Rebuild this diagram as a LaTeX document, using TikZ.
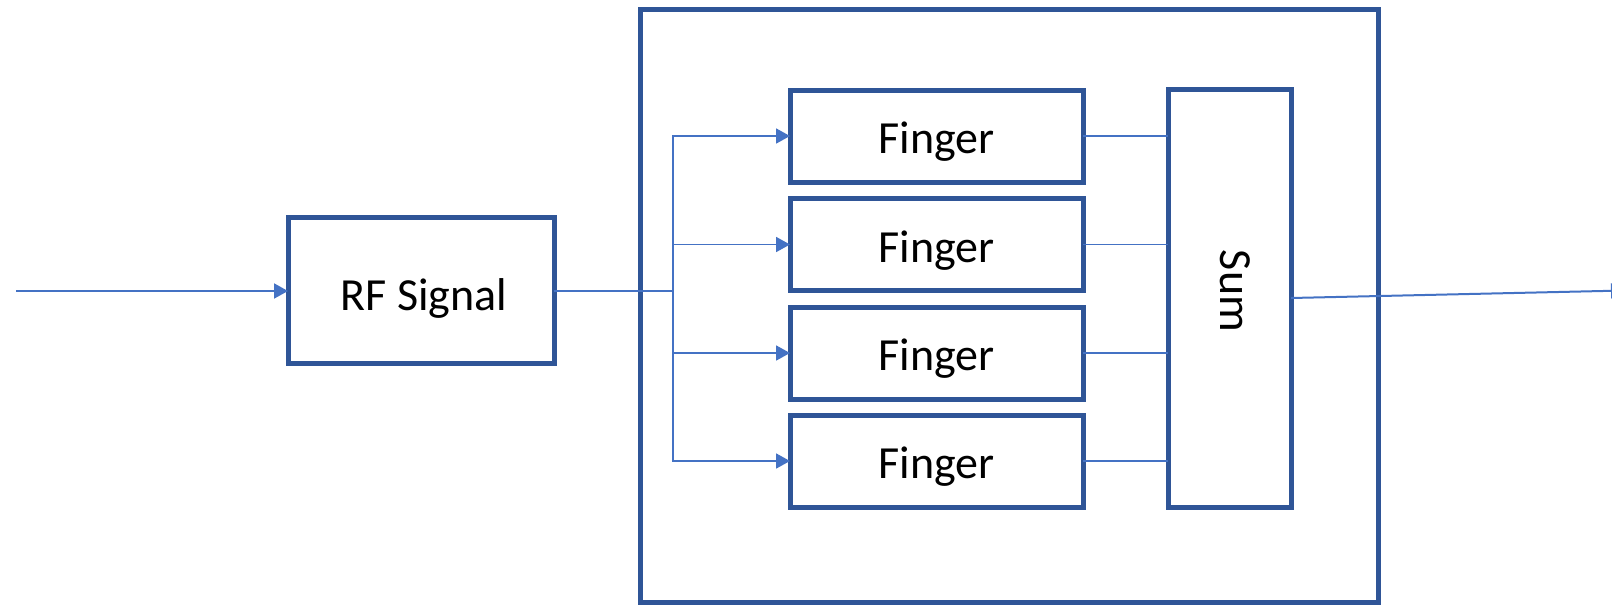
\documentclass[tikz,border=0pt]{standalone}
\usepackage{fontspec}
\setmainfont{Carlito}
\usetikzlibrary{arrows.meta}
\definecolor{boxblue}{RGB}{47,85,151}
\definecolor{linkblue}{RGB}{68,114,196}
\begin{document}
\begin{tikzpicture}[x=1pt,y=-1pt,
  blk/.style={draw=boxblue,line width=5pt,fill=white,inner sep=0pt,outer sep=0pt},
  txt/.style={font=\fontsize{46}{55}\selectfont,inner sep=0pt},
  link/.style={draw=linkblue,line width=1.8pt},
  thin/.style={draw=linkblue,line width=1.1pt},
  arr/.style={link,-{Triangle[length=14pt,width=15pt]}}]
\useasboundingbox (0,0) rectangle (1612,606);
% outer frame
\node[blk,minimum width=738pt,minimum height=593pt] (frame) at (1009,305.5) {};
% blocks
\node[blk,minimum width=266pt,minimum height=146pt] (rf) at (421,290) {};
\node[blk,minimum width=293pt,minimum height=92pt] (f1) at (936.5,136) {};
\node[blk,minimum width=293pt,minimum height=92pt] (f2) at (936.5,244.5) {};
\node[blk,minimum width=293pt,minimum height=92pt] (f3) at (936.5,353) {};
\node[blk,minimum width=293pt,minimum height=92pt] (f4) at (936.5,461) {};
\node[blk,minimum width=123pt,minimum height=418pt] (sum) at (1229.5,298) {};
% texts
\node[txt,yshift=-8pt,xshift=3pt] (rft) at (rf.center) {RF Signal};
\node[txt,yshift=-6pt] (f1t) at (f1.center) {Finger};
\node[txt,yshift=-6pt] (f2t) at (f2.center) {Finger};
\node[txt,yshift=-6pt] (f3t) at (f3.center) {Finger};
\node[txt,yshift=-6pt] (f4t) at (f4.center) {Finger};
\node[txt,xshift=6pt,yshift=7pt,rotate=-90] (sumt) at (sum.center) {Sum};
% coordinates
\coordinate (in) at (16,291);
\coordinate (j) at (673,291);
\coordinate (out) at (1625,290.5);
% connectors
\draw[arr,line width=2pt] (in) -- (rf.west |- in);
\draw[thin] (rf.east |- j) -- (j);
\draw[arr] (j) |- (f1.west);
\draw[arr] (j) |- (f2.west);
\draw[arr] (j) |- (f3.west);
\draw[arr] (j) |- (f4.west);
\draw[thin] (f1.east) -- (f1.east -| sum.west);
\draw[thin] (f2.east) -- (f2.east -| sum.west);
\draw[thin] (f3.east) -- (f3.east -| sum.west);
\draw[thin] (f4.east) -- (f4.east -| sum.west);
\draw[arr,line width=2pt] (sum.east) -- (out);
\end{tikzpicture}
\end{document}
